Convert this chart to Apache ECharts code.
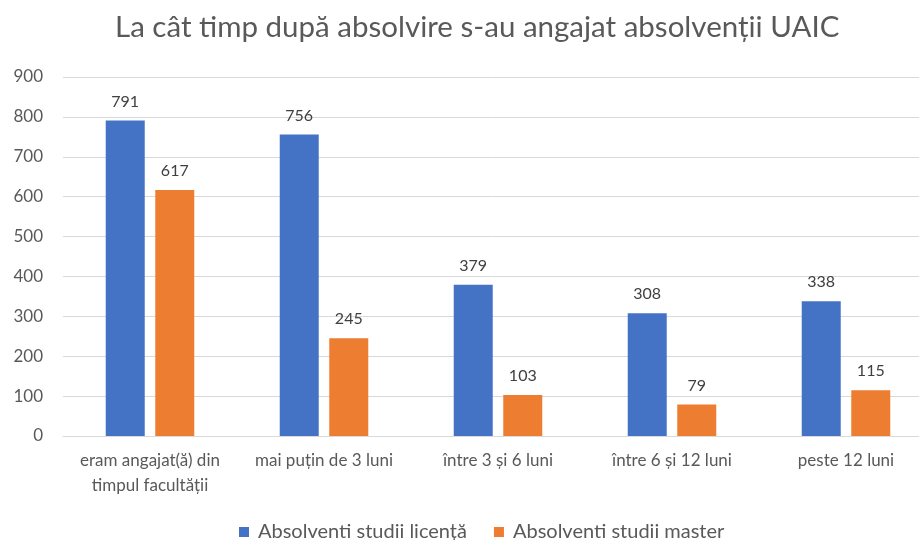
<!DOCTYPE html>
<html>
<head>
<meta charset="utf-8">
<script src="https://cdn.jsdelivr.net/npm/echarts@6/dist/echarts.min.js"></script>
<style>
  html, body { margin: 0; padding: 0; background: #fff; }
  #chart { width: 919px; height: 540px; }
</style>
</head>
<body>
<div id="chart"></div>
<script>
const categories = ['eram angajat(ă) din\ntimpul facultății', 'mai puțin de 3 luni', 'între 3 și 6 luni', 'între 6 și 12 luni', 'peste 12 luni'];
const licenta = [791, 756, 379, 308, 338];
const master = [617, 245, 103, 79, 115];
const seriesNames = ['Absolventi studii licență', 'Absolventi studii master'];

const FONT = 'Lato, "Open Sans", sans-serif';

const chart = echarts.init(document.getElementById('chart'));

const label = {
  show: true,
  position: 'top',
  distance: 11,
  fontFamily: FONT,
  fontSize: 16,
  color: '#404040'
};

chart.setOption({
  animation: false,
  title: {
    text: 'La cât timp după absolvire s-au angajat absolvenții UAIC',
    left: 110,
    top: 7,
    textStyle: { fontFamily: FONT, fontSize: 29.5, fontWeight: 'normal', color: '#595959' }
  },
  legend: {
    top: 517,
    left: 234,
    itemWidth: 10,
    itemHeight: 10,
    itemGap: 27,
    icon: 'rect',
    textStyle: { fontFamily: FONT, fontSize: 20, color: '#595959', padding: [0, 0, 0, 4] },
    data: seriesNames
  },
  grid: {
    left: 63,
    top: 77,
    width: 870,
    height: 359,
    containLabel: false,
    outerBoundsMode: 'none'
  },
  xAxis: {
    type: 'category',
    data: categories,
    axisTick: { show: false },
    axisLine: { lineStyle: { color: '#D9D9D9', width: 1 } },
    axisLabel: {
      fontFamily: FONT, fontSize: 17, color: '#595959',
      margin: 12, lineHeight: 25, interval: 0
    }
  },
  yAxis: {
    type: 'value',
    min: 0,
    max: 900,
    interval: 100,
    axisLabel: { fontFamily: FONT, fontSize: 17, color: '#595959', margin: 20 },
    splitLine: { lineStyle: { color: '#D9D9D9', width: 1 } },
    axisLine: { show: false },
    axisTick: { show: false }
  },
  series: [
    {
      name: seriesNames[0],
      type: 'bar',
      data: licenta,
      barWidth: 39,
      barGap: '27%',
      itemStyle: { color: '#4472C4' },
      label: label
    },
    {
      name: seriesNames[1],
      type: 'bar',
      data: master,
      barWidth: 39,
      itemStyle: { color: '#ED7D31' },
      label: label
    }
  ]
});
</script>
</body>
</html>
